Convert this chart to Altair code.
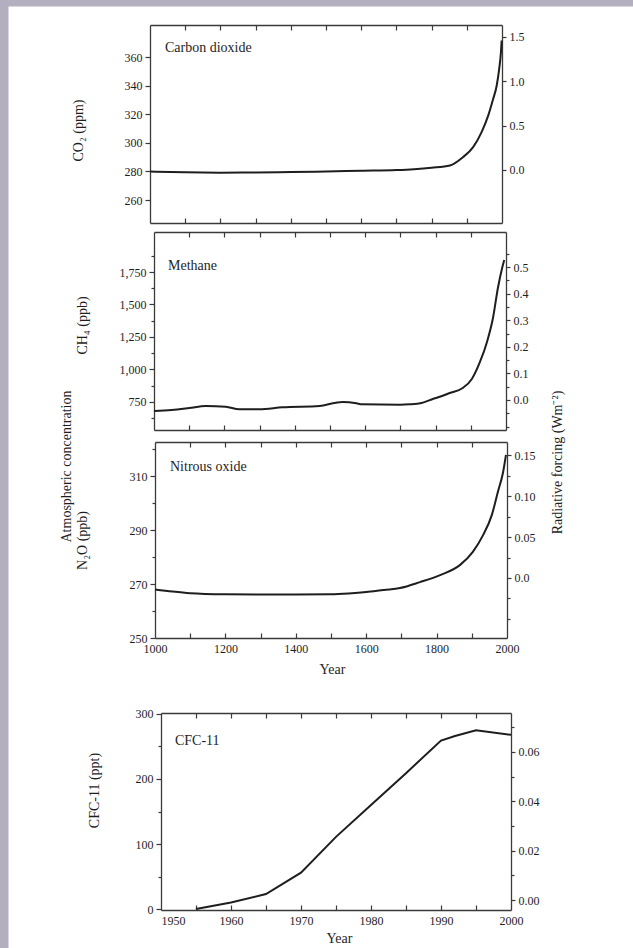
import altair as alt
import pandas as pd

# ---------------- data ----------------
co2_years = [1000, 1100, 1200, 1300, 1400, 1500, 1600, 1700, 1750, 1800, 1852, 1889, 1918,
             1942, 1961, 1975, 1985, 1992, 1997, 1999]
co2_ppm = [280.0, 279.4, 279.2, 279.3, 279.6, 280.0, 280.5, 281.0, 281.6, 282.6, 284.2, 290.0,
           297.0, 307.5, 319.2, 330.8, 340.1, 351.8, 363.4, 371.6]

ch4_years = [1000, 1050, 1100, 1147, 1204, 1242, 1299, 1365, 1470, 1517, 1536, 1575, 1590,
             1700, 1726, 1760, 1792, 1812, 1840, 1877, 1903, 1926, 1946, 1963, 1977, 1989, 1995]
ch4_ppb = [681, 688, 703, 719, 714, 694, 694, 709, 719, 745, 750, 740, 732, 729, 732, 742,
           773, 790, 819, 858, 927, 1058, 1212, 1396, 1627, 1781, 1842]

n2o_years = [1000, 1050, 1100, 1200, 1300, 1400, 1500, 1550, 1600, 1650, 1696, 1753, 1810,
             1866, 1903, 1932, 1957, 1974, 1989, 1997]
n2o_ppb = [268.0, 267.2, 266.6, 266.2, 266.1, 266.1, 266.2, 266.5, 267.0, 267.8, 268.5, 270.7,
           273.3, 277.0, 281.9, 288.1, 295.6, 304.1, 311.5, 317.8]

cfc_years = [1955, 1960, 1965, 1970, 1975, 1980, 1985, 1990, 1992, 1995, 2000]
cfc_ppt = [0, 10, 23, 56, 111, 160, 209, 259, 266, 275, 268]

panel_names = ["Carbon dioxide", "Methane", "Nitrous oxide", "CFC-11"]

co2_left_ticks = [260, 280, 300, 320, 340, 360]
co2_right_ticks = [0.0, 0.5, 1.0, 1.5]
ch4_left_ticks = [750, 1000, 1250, 1500, 1750]
ch4_left_minor = [625, 875, 1125, 1375, 1625, 1875]
ch4_right_ticks = [0.0, 0.1, 0.2, 0.3, 0.4, 0.5]
ch4_right_minor = [-0.1, -0.05, 0.05, 0.15, 0.25, 0.35, 0.45, 0.55]
n2o_left_ticks = [250, 270, 290, 310]
n2o_left_minor = [260, 280, 300, 320]
n2o_right_ticks = [0.0, 0.05, 0.10, 0.15]
n2o_right_minor = [-0.05, -0.025, 0.025, 0.075, 0.125]
cfc_left_ticks = [0, 100, 200, 300]
cfc_left_minor = [50, 150, 250]
cfc_right_ticks = [0.0, 0.02, 0.04, 0.06]
cfc_right_minor = [0.01, 0.03, 0.05, 0.07]

millennium_labels = [1000, 1200, 1400, 1600, 1800, 2000]
millennium_edge = [1100, 1200, 1300, 1400, 1500, 1600, 1700, 1800, 1900]
recent_labels = [1950, 1960, 1970, 1980, 1990, 2000]
recent_edge = [1955, 1960, 1965, 1970, 1975, 1980, 1985, 1990, 1995]

# ---------------- layout / style ----------------
FONT = "Liberation Serif"
INK = "#1e1e1e"
FRAME = "#3a3a3a"
BG = "#b3afc0"
PADL, PADT = 8, 6
W, H = 633 - PADL, 948 - PADT


def P(x, y):
    return x - PADL, y - PADT


def sc(dom, rng):
    return alt.Scale(domain=dom, range=rng, nice=False, zero=False)


def panel(name, years, values, xdom, frame, ydl, ydr, lt, lm, lfmt, rt, rm, rexpr, edge,
          ltitle, ltitle_xy, name_xy, xlabels=None, year_xy=None, xlab_align=None,
          extra=None, rtitle=None, interp="monotone"):
    (left, top), (right, bottom) = P(*frame[0]), P(*frame[1])
    df = pd.DataFrame({"year": years, "value": values})
    xr, yr = [left, right], [bottom, top]

    def X(axis):
        return alt.X("year:Q", scale=sc(xdom, xr), axis=axis)

    def YL(axis):
        return alt.Y("value:Q", scale=sc(ydl, yr), axis=axis)

    def YR(axis):
        return alt.Y("value:Q", scale=sc(ydr, yr), axis=axis)

    tx, ty = P(*ltitle_xy)
    a = alt.Chart(df).mark_line(color=INK, strokeWidth=2, interpolate=interp).encode(
        x=X(alt.Axis(orient="bottom", offset=top - H, values=edge, labels=False,
                     tickSize=5, title=None, grid=False)),
        y=YL(alt.Axis(orient="left", offset=-left, values=lt, format=lfmt, tickSize=5,
                      labelPadding=3, grid=False, title=ltitle, titleX=tx - left, titleY=ty,
                      titleAngle=270, titleAlign="center", titleBaseline="middle")),
    )

    rkw = dict(orient="right", offset=right - W, values=rt, labelExpr=rexpr, tickSize=4,
               labelPadding=3, grid=False)
    if rtitle is not None:
        rx, ry = P(*rtitle[1])
        rkw.update(title=rtitle[0], titleX=rx - right, titleY=ry, titleAngle=270,
                   titleAlign="center", titleBaseline="middle")
    else:
        rkw.update(title=None)
    b = alt.Chart(df).mark_line(opacity=0, clip=True).encode(
        x=X(alt.Axis(orient="top", offset=-bottom, values=edge, labels=False, tickSize=5,
                     title=None, grid=False)),
        y=YR(alt.Axis(**rkw)),
    )

    layers = [a, b]

    if xlabels is not None:
        yx, yy = P(*year_xy)
        xkw = dict(orient="bottom", offset=bottom - H, values=xlabels, format="d", ticks=False,
                   domain=False, labelPadding=5, grid=False, labelFlush=False, title="Year",
                   titleX=yx, titleY=yy - bottom, titleBaseline="middle", titleAlign="center")
        if xlab_align is not None:
            xkw.update(labelAlign=xlab_align)
        xaxis = alt.Axis(**xkw)
    else:
        xaxis = None

    if lm or extra is not None:
        lkw = dict(orient="left", offset=-left, values=lm, labels=False, domain=False,
                   tickSize=3, grid=False)
        if extra is not None:
            ex, ey = P(*extra[1])
            lkw.update(title=extra[0], titleX=ex - left, titleY=ey, titleAngle=270,
                       titleAlign="center", titleBaseline="middle")
        else:
            lkw.update(title=None)
        yaxis_c = YL(alt.Axis(**lkw))
    else:
        yaxis_c = YL(None)
    if xaxis is not None or lm or extra is not None:
        layers.append(alt.Chart(df).mark_line(opacity=0, clip=True).encode(
            x=X(xaxis), y=yaxis_c))

    if rm:
        layers.append(alt.Chart(df).mark_line(opacity=0, clip=True).encode(
            x=X(None),
            y=YR(alt.Axis(orient="right", offset=right - W, values=rm, labels=False,
                          domain=False, tickSize=3, grid=False, title=None)),
        ))

    nx, ny = P(*name_xy)
    layers.append(alt.Chart(pd.DataFrame({"label": [name]})).mark_text(
        font=FONT, fontSize=14, color=INK, align="left", baseline="middle").encode(
        text="label:N", x=alt.value(nx), y=alt.value(ny)))
    return layers


layers = []
layers += panel(panel_names[0], co2_years, co2_ppm, [1000, 2000], [(150, 25), (502, 223)],
                [244.0, 382.4], [-0.598, 1.635], co2_left_ticks, [], "d",
                co2_right_ticks, [], "format(datum.value, '.1f')", millennium_edge,
                "CO₂ (ppm)", (78, 130), (165, 48))
layers += panel(panel_names[1], ch4_years, ch4_ppb, [1000, 2000], [(154, 232), (506, 430)],
                [534.6, 2057.7], [-0.113, 0.632], ch4_left_ticks, ch4_left_minor, ",d",
                ch4_right_ticks, ch4_right_minor, "format(datum.value, '.1f')", millennium_edge,
                "CH₄ (ppb)", (82, 325), (168, 266))
layers += panel(panel_names[2], n2o_years, n2o_ppb, [1000, 2000], [(155, 442), (507, 638)],
                [250.0, 322.6], [-0.0732, 0.1659], n2o_left_ticks, n2o_left_minor, "d",
                n2o_right_ticks, n2o_right_minor,
                "datum.value == 0 ? '0.0' : format(datum.value, '.2f')", millennium_edge,
                "N₂O (ppb)", (82, 540), (170, 467),
                xlabels=millennium_labels, year_xy=(332, 669),
                extra=("Atmospheric concentration", (66, 466)),
                rtitle=("Radiative forcing (Wm⁻²)", (557, 462)))
layers += panel(panel_names[3], cfc_years, cfc_ppt, [1950, 2000], [(161, 713), (511, 910)],
                [-1.5, 301.5], [-0.00405, 0.0758], cfc_left_ticks, cfc_left_minor, "d",
                cfc_right_ticks, cfc_right_minor, "format(datum.value, '.2f')", recent_edge,
                "CFC-11 (ppt)", (94, 790), (175, 741),
                xlabels=recent_labels, year_xy=(339, 938),
                xlab_align={"condition": {"test": "datum.value == 1950", "value": "left"},
                            "value": "center"},
                interp="linear")

chart = alt.layer(*layers).resolve_scale(x="independent", y="independent").properties(
    width=W, height=H, background=BG,
    padding={"left": PADL, "top": PADT, "right": 0, "bottom": 0},
    autosize=alt.AutoSizeParams(type="none"),
).configure_view(fill="white", stroke="transparent").configure_axis(
    labelFont=FONT, labelFontSize=12, labelColor=INK,
    titleFont=FONT, titleFontSize=14, titleFontWeight="normal", titleColor=INK,
    domainColor=FRAME, domainWidth=1.3, tickColor=FRAME, tickWidth=1.2,
)

chart.save("out.html", embed_options={"renderer": "svg", "actions": False})
